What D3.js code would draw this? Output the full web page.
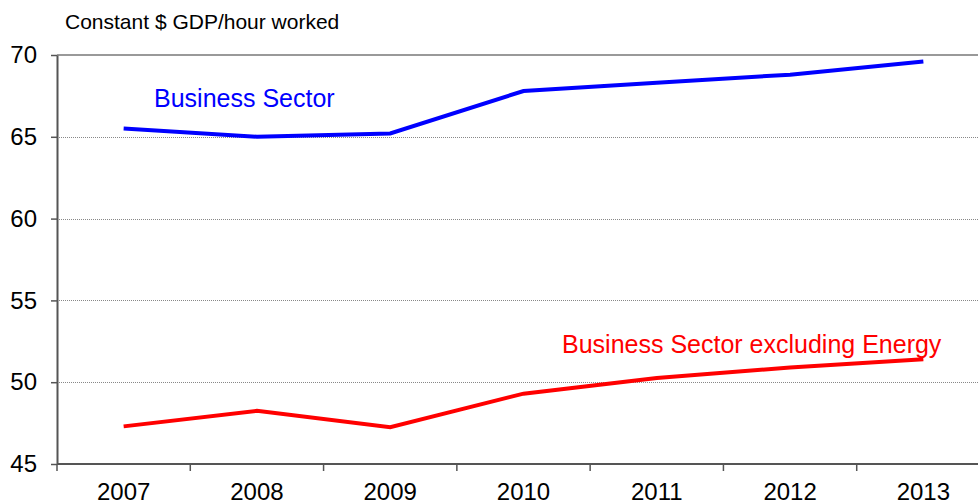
<!DOCTYPE html>
<html>
<head>
<meta charset="utf-8">
<script src="https://cdn.jsdelivr.net/npm/d3@7"></script>
<style>
  body{margin:0;background:#fff;}
  svg text{font-family:"Liberation Sans",Arial,sans-serif;}
</style>
</head>
<body>
<div id="chart"></div>
<script>
// productivity data
const years=["2007","2008","2009","2010","2011","2012","2013"];
const business=[65.5,65.0,65.2,67.8,68.3,68.8,69.6];
const businessExEnergy=[47.3,48.25,47.25,49.3,50.25,50.9,51.4];
const yTicks=[45,50,55,60,65,70];

const width=978,height=504;
const mLeft=57,mTop=55,mBottom=464,mRight=990;

const svg=d3.select("#chart").append("svg")
      .attr("width",width).attr("height",height);

const x=d3.scaleBand().domain(years).range([mLeft,mRight]);
const y=d3.scaleLinear().domain([45,70]).range([mBottom,mTop]);

// gridlines
svg.append("g").selectAll("line")
   .data(yTicks.filter(v=>v>45&&v<70))
   .enter().append("line")
   .attr("x1",mLeft).attr("x2",width)
   .attr("y1",d=>Math.round(y(d))+0.5).attr("y2",d=>Math.round(y(d))+0.5)
   .attr("stroke","#888").attr("stroke-width",1).attr("stroke-dasharray","1,1");
// top border at 70
svg.append("line")
   .attr("x1",mLeft).attr("x2",width)
   .attr("y1",y(70)).attr("y2",y(70))
   .attr("stroke","#999").attr("stroke-width",2);

// y axis
const yAxis=d3.axisLeft(y).tickValues(yTicks).tickSize(6).tickSizeOuter(0).tickPadding(14);
const gy=svg.append("g").attr("transform","translate("+mLeft+",0)").call(yAxis);
gy.select(".domain").attr("stroke","#555").attr("stroke-width",2);
gy.selectAll(".tick line").attr("stroke","#555").attr("stroke-width",1.5);
gy.selectAll(".tick text").attr("font-size","24px").attr("fill","#000")
  .attr("font-family","Liberation Sans, Arial, sans-serif");

// x axis with ticks on band boundaries
const gx=svg.append("g").attr("transform","translate(0,"+mBottom+")");
gx.append("line").attr("x1",mLeft).attr("x2",width).attr("stroke","#555").attr("stroke-width",2);
gx.selectAll("line.tk").data(years).enter().append("line").attr("class","tk")
  .attr("x1",d=>x(d)).attr("x2",d=>x(d)).attr("y1",0).attr("y2",7)
  .attr("stroke","#555").attr("stroke-width",1.5);
gx.selectAll("text").data(years).enter().append("text")
  .attr("x",d=>x(d)+x.bandwidth()/2).attr("y",36)
  .attr("text-anchor","middle").attr("font-size","24px").attr("fill","#000")
  .text(d=>d);

// lines
const line=d3.line().x((d,i)=>x(years[i])+x.bandwidth()/2).y(d=>y(d));
svg.append("path").datum(business).attr("d",line)
   .attr("fill","none").attr("stroke","#0000ff").attr("stroke-width",4);
svg.append("path").datum(businessExEnergy).attr("d",line)
   .attr("fill","none").attr("stroke","#ff0000").attr("stroke-width",4);

// labels
svg.append("text").attr("x",65).attr("y",29).attr("font-size","21px").attr("fill","#000")
   .text("Constant $ GDP/hour worked");
svg.append("text").attr("x",154).attr("y",107).attr("font-size","25px").attr("fill","#0000ff")
   .text("Business Sector");
svg.append("text").attr("x",562).attr("y",353).attr("font-size","25px").attr("fill","#ff0000")
   .text("Business Sector excluding Energy");
</script>
</body>
</html>
